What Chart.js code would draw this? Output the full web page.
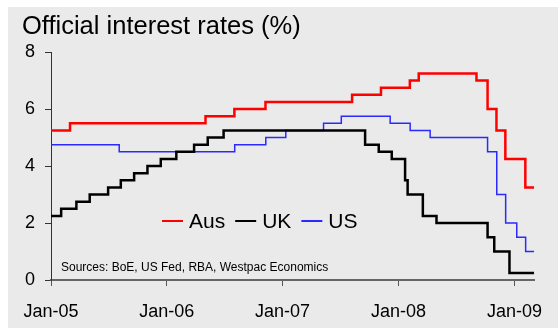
<!DOCTYPE html>
<html>
<head>
<meta charset="utf-8">
<script src="https://cdn.jsdelivr.net/npm/chart.js@4/dist/chart.umd.min.js"></script>
<style>
  html, body { margin: 0; padding: 0; background: #fff; }
  #wrap { width: 558px; height: 332px; }
</style>
</head>
<body>
<div id="wrap"><canvas id="rates"></canvas></div>
<script>
// rate change dates and the new level from that date (last entry = end of data)
const ausDates = ['2005-01-01', '2005-03-02', '2006-05-03', '2006-08-02', '2006-11-08', '2007-08-08',
  '2007-11-07', '2008-02-06', '2008-03-05', '2008-09-03', '2008-10-08', '2008-11-05', '2008-12-03',
  '2009-02-04', '2009-03-04'];
const ausRates = [5.25, 5.5, 5.75, 6.0, 6.25, 6.5, 6.75, 7.0, 7.25, 7.0, 6.0, 5.25, 4.25, 3.25, 3.25];

const ukDates = ['2005-01-01', '2005-02-02', '2005-03-22', '2005-05-03', '2005-06-30', '2005-08-09',
  '2005-09-20', '2005-11-01', '2005-12-13', '2006-01-31', '2006-03-28', '2006-05-10', '2006-06-29',
  '2007-09-18', '2007-10-31', '2007-12-11', '2008-01-22', '2008-01-30', '2008-03-18', '2008-04-30',
  '2008-10-08', '2008-10-29', '2008-12-16', '2009-03-04'];
const ukRates = [2.25, 2.5, 2.75, 3.0, 3.25, 3.5, 3.75, 4.0, 4.25, 4.5, 4.75, 5.0, 5.25,
  4.75, 4.5, 4.25, 3.5, 3.0, 2.25, 2.0, 1.5, 1.0, 0.25, 0.25];

const usDates = ['2005-01-01', '2005-08-04', '2006-08-03', '2006-11-09', '2007-01-11', '2007-05-10',
  '2007-07-05', '2007-12-06', '2008-02-07', '2008-04-10', '2008-10-08', '2008-11-06', '2008-12-04',
  '2009-01-08', '2009-02-05', '2009-03-04'];
const usRates = [4.75, 4.5, 4.75, 5.0, 5.25, 5.5, 5.75, 5.5, 5.25, 5.0, 4.5, 3.0, 2.0, 1.5, 1.0, 1.0];

const tickDates = ['2005-01-01', '2006-01-01', '2007-01-01', '2008-01-01', '2009-01-01'];
const tickLabels = ['Jan-05', 'Jan-06', 'Jan-07', 'Jan-08', 'Jan-09'];

const FONT = '"Liberation Sans", Arial, sans-serif';
const origin = Date.UTC(2005, 0, 1);
const dayOf = s => {
  const [y, m, d] = s.split('-').map(Number);
  return (Date.UTC(y, m - 1, d) - origin) / 86400000;
};
const points = (dates, rates) => dates.map((d, i) => ({ x: dayOf(d), y: rates[i] }));
const tickDays = tickDates.map(dayOf);

// grey panel behind everything
const panel = {
  id: 'panel',
  beforeDraw(chart) {
    const ctx = chart.ctx;
    ctx.save();
    ctx.fillStyle = '#ffffff';
    ctx.fillRect(0, 0, chart.width, chart.height);
    ctx.fillStyle = '#eaeaea';
    ctx.fillRect(8, 7, chart.width - 8, 321);
    ctx.restore();
  }
};

// title, in-plot legend and source note
const notes = {
  id: 'notes',
  afterDraw(chart) {
    const ctx = chart.ctx;
    ctx.save();
    ctx.fillStyle = '#000';
    ctx.textBaseline = 'alphabetic';
    ctx.font = '25.5px ' + FONT;
    ctx.fillText('Official interest rates (%)', 22, 33.5);

    ctx.font = '12px ' + FONT;
    ctx.textBaseline = 'middle';
    ctx.fillText('Sources: BoE, US Fed, RBA, Westpac Economics', 61, 268);

    ctx.font = '21px ' + FONT;
    let x = 162;
    const y = 221;
    chart.data.datasets.forEach(ds => {
      ctx.strokeStyle = ds.borderColor;
      ctx.lineWidth = 2;
      ctx.beginPath();
      ctx.moveTo(x, y);
      ctx.lineTo(x + 21, y);
      ctx.stroke();
      ctx.fillText(ds.label, x + 27, y + 1);
      x += 27 + ctx.measureText(ds.label).width + 10;
    });
    ctx.restore();
  }
};

new Chart(document.getElementById('rates'), {
  type: 'line',
  data: {
    datasets: [
      { label: 'Aus', data: points(ausDates, ausRates), borderColor: '#ff0000', borderWidth: 2.5 },
      { label: 'UK', data: points(ukDates, ukRates), borderColor: '#000000', borderWidth: 2.5 },
      { label: 'US', data: points(usDates, usRates), borderColor: '#2a2aff', borderWidth: 1.5 }
    ]
  },
  options: {
    responsive: true,
    maintainAspectRatio: false,
    animation: false,
    devicePixelRatio: 1,
    layout: { padding: { left: 0, right: 23, top: 52, bottom: 0 } },
    elements: {
      line: { stepped: true, fill: false, tension: 0 },
      point: { radius: 0 }
    },
    scales: {
      x: {
        type: 'linear',
        min: 0,
        max: dayOf('2009-03-04'),
        afterFit(s) { s.height = 52; },
        afterBuildTicks(s) { s.ticks = tickDays.map(v => ({ value: v })); },
        ticks: {
          autoSkip: false,
          maxRotation: 0,
          padding: 15,
          color: '#000',
          font: { family: FONT, size: 18 },
          callback: (v) => tickLabels[tickDays.indexOf(v)]
        },
        grid: { drawOnChartArea: false, drawTicks: true, tickLength: 6, color: '#555', lineWidth: 1 },
        border: { color: '#666', width: 2 }
      },
      y: {
        min: 0,
        max: 8,
        afterFit(s) { s.width = 51; },
        ticks: {
          stepSize: 2,
          padding: 10,
          color: '#000',
          font: { family: FONT, size: 18 }
        },
        grid: { drawOnChartArea: false, drawTicks: true, tickLength: 6, color: '#333', lineWidth: 1 },
        border: { color: '#333', width: 1 }
      }
    },
    plugins: {
      legend: { display: false },
      tooltip: { enabled: false }
    }
  },
  plugins: [panel, notes]
});
</script>
</body>
</html>
